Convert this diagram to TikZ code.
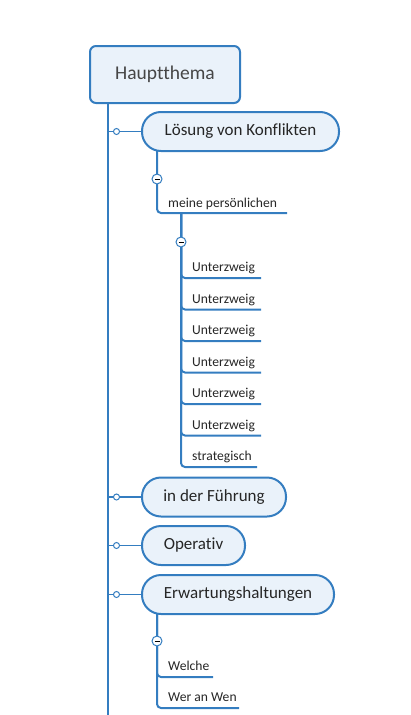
\documentclass[tikz,border=0pt]{standalone}
\usepackage{fontspec}
\setmainfont[Ligatures=NoCommon]{Carlito}
\definecolor{bl}{RGB}{52,125,192}
\definecolor{fl}{RGB}{234,242,250}
\definecolor{tx}{RGB}{38,38,38}
\definecolor{mt}{RGB}{70,70,70}
\begin{document}
\begin{tikzpicture}[x=1pt,y=-1pt,
 mainbox/.style={draw=bl,fill=fl,line width=2pt,rounded corners=6pt,minimum width=150pt,minimum height=57pt,inner sep=0pt,font=\fontsize{19.5}{22}\selectfont,text=mt},
 topic/.style={draw=bl,fill=fl,line width=2pt,rounded corners=19pt,minimum height=39pt,inner sep=0pt,font=\fontsize{17}{20}\selectfont,text=tx,anchor=west},
 sub/.style={font=\fontsize{13.6}{15}\selectfont,text=tx,anchor=base west,inner sep=0pt},
 branch/.style={draw=bl,line width=2pt,rounded corners=4pt},
 trunk/.style={draw=bl,line width=2.5pt},
 link/.style={draw=bl,line width=1.8pt},
 knob/.style={circle,draw=bl,fill=white,line width=1pt,inner sep=0pt,minimum size=6pt},
 fold/.style={circle,draw=bl,fill=white,line width=1pt,inner sep=0pt,minimum size=10pt,
   path picture={\draw[black,line width=0.9pt] ([xshift=-2.5pt]path picture bounding box.center) -- ([xshift=2.5pt]path picture bounding box.center);}}]
\useasboundingbox (0,0) rectangle (410,715);

% main topic and trunk
\coordinate (trunkTop) at (108,103);
\coordinate (trunkBot) at (108,716);
\draw[trunk] (trunkTop) -- (trunkBot);
\node[mainbox] (main) at (165,74.5) {Hauptthema};

% topics
\node[topic,minimum width=197pt] (t1) at (141,131.5) {Lösung von Konflikten};
\node[topic,minimum width=144pt] (t2) at (141,497) {in der Führung};
\node[topic,minimum width=103pt] (t3) at (141,545.5) {Operativ};
\node[topic,minimum width=192pt] (t4) at (141,594.5) {Erwartungshaltungen};

\foreach \t/\y in {t1/131.5,t2/497,t3/545.5,t4/594.5}{
  \coordinate (j\t) at (108,\y);
  \draw[link] (j\t) -- (\t.west);
  \node[knob] (k\t) at (116.5,\y) {};
}

% branch under Lösung von Konflikten
\coordinate (b1top) at (157,151);
\coordinate (mpEnd) at (287,213);
\draw[branch] (b1top) |- (mpEnd);
\node[sub] (mp) at (168,207) {meine persönlichen};
\node[fold] (f1) at (157,179) {};

% sub-branch under meine persönlichen
\coordinate (b2top) at (181,213);
\foreach \i/\y/\e/\txt in {1/278/261/Unterzweig,2/309.5/261/Unterzweig,3/341/261/Unterzweig,4/372.5/261/Unterzweig,5/404/261/Unterzweig,6/435.5/261/Unterzweig,7/467/257/strategisch}{
  \coordinate (e\i) at (\e,\y);
  \draw[branch] (b2top) |- (e\i);
  \node[sub] (s\i) at (192,\y-6.5) {\txt};
}
\node[fold] (f2) at (181,242) {};

% branch under Erwartungshaltungen
\coordinate (b3top) at (157,614);
\coordinate (w1) at (213,677);
\coordinate (w2) at (239,708);
\draw[branch] (b3top) |- (w1);
\draw[branch] (b3top) |- (w2);
\node[sub] (welche) at (168,670.5) {Welche};
\node[sub] (weran) at (168,701.5) {Wer an Wen};
\node[fold] (f3) at (157,641) {};
\end{tikzpicture}
\end{document}
